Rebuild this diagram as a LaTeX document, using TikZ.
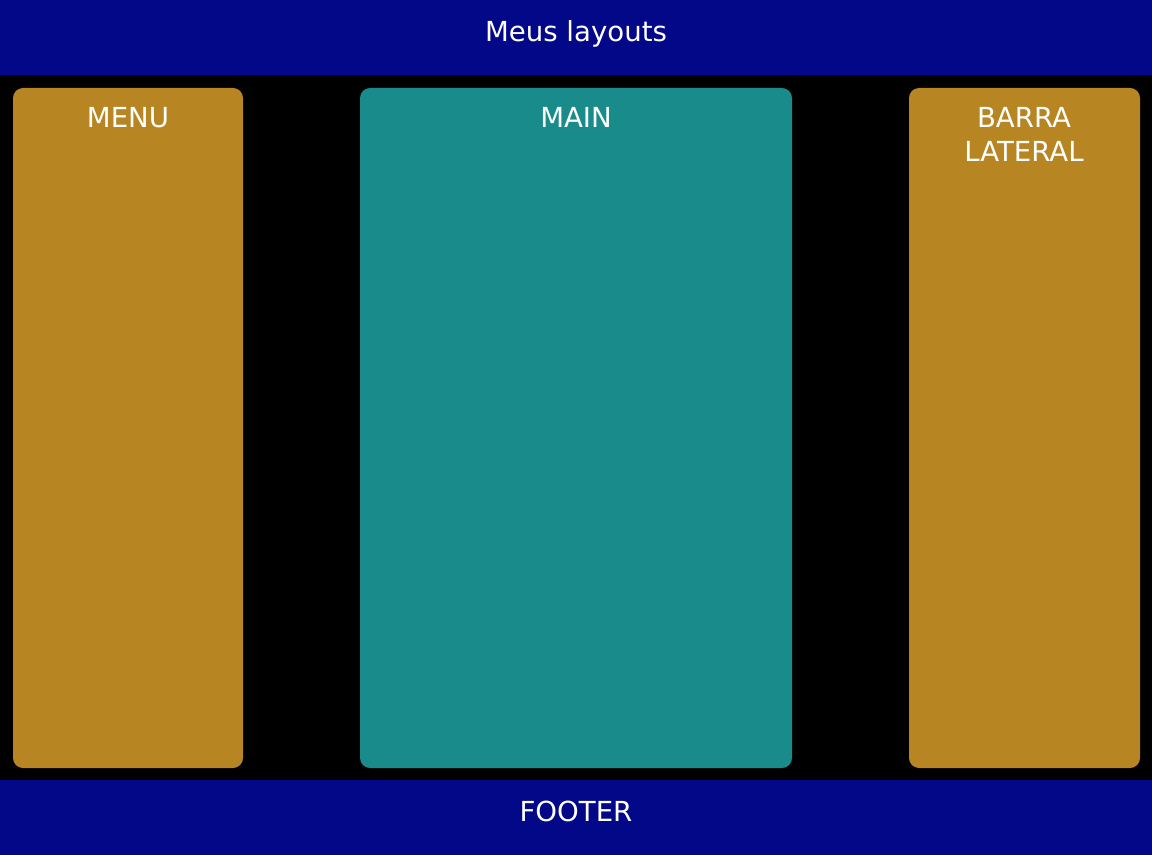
\documentclass[tikz,border=0pt]{standalone}
\usepackage{fontspec}
\setmainfont{DejaVu Sans}
\definecolor{navy}{RGB}{3,8,137}
\definecolor{gold}{RGB}{183,134,34}
\definecolor{teal}{RGB}{26,139,139}
\begin{document}
\begin{tikzpicture}[x=0.75pt,y=-0.75pt,
  panel/.style={rounded corners=7.5pt},
  lbl/.style={text=white,font=\fontsize{20.7pt}{25.5pt}\selectfont,anchor=base,inner sep=0pt,align=center}]
\useasboundingbox (0,0) rectangle (1152,855);
\fill[black] (0,0) rectangle (1152,855);
\fill[navy] (0,0) rectangle (1152,75);
\fill[navy] (0,780) rectangle (1152,855);
\fill[gold,panel] (13,88) rectangle (243,768);
\fill[teal,panel] (360,88) rectangle (792,768);
\fill[gold,panel] (909,88) rectangle (1140,768);
\node[lbl] (title) at (576,42) {Meus layouts};
\node[lbl] (menu) at (128,128) {MENU};
\node[lbl] (main) at (576,128) {MAIN};
\node[lbl] (barra) at (1024,128) {BARRA};
\node[lbl] (lateral) at (1024,162) {LATERAL};
\node[lbl] (footer) at (576,821) {FOOTER};
\end{tikzpicture}
\end{document}
